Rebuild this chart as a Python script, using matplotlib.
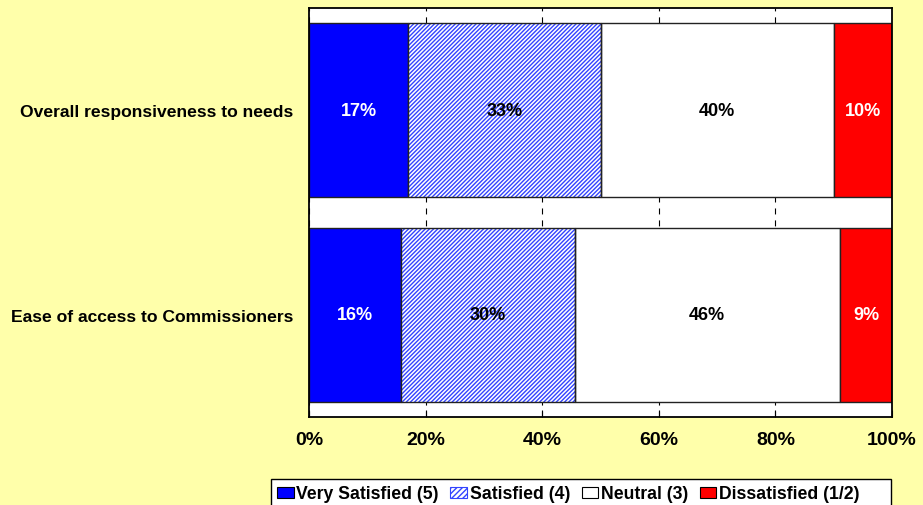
import matplotlib
matplotlib.use("Agg")
import matplotlib.pyplot as plt
import matplotlib.patches as mpatches
import numpy as np

# Survey results (percent of respondents)
questions = ["Overall responsiveness to needs", "Ease of access to Commissioners"]
series_names = ["Very Satisfied (5)", "Satisfied (4)", "Neutral (3)", "Dissatisfied (1/2)"]
very_satisfied = [17, 16]
satisfied = [33, 30]
neutral = [40, 46]
dissatisfied = [10, 9]
x_ticks = [0, 20, 40, 60, 80, 100]
x_tick_labels = ["0%", "20%", "40%", "60%", "80%", "100%"]

plt.rcParams["font.family"] = ["Liberation Sans", "DejaVu Sans"]
plt.rcParams["font.weight"] = "bold"
plt.rcParams["lines.scale_dashes"] = False
plt.rcParams["hatch.linewidth"] = 1.0

BG = "#FFFFAA"
W, H = 923, 506
fig = plt.figure(figsize=(W / 100, H / 100), dpi=100, facecolor=BG)
ax = fig.add_axes([309 / W, 1 - 418 / H, 583 / W, 409 / H])
ax.set_facecolor("white")

values = np.array([very_satisfied, satisfied, neutral, dissatisfied], dtype=float)
totals = values.sum(axis=0)
shares = values / totals * 100.0  # each row stacks to 100%

ypos = np.array([1.0, 0.0])
height = 0.85
HATCH_BLUE = "#3344FF"
styles = [
    dict(face="#0000FF", hatch=None, text="white"),
    dict(face="white", hatch="////////", text="black"),
    dict(face="white", hatch=None, text="black"),
    dict(face="#FF0000", hatch=None, text="white"),
]

left = np.zeros(len(questions))
handles = []
for i, (name, st) in enumerate(zip(series_names, styles)):
    w = shares[i]
    if st["hatch"]:
        ax.barh(ypos, w, left=left, height=height, color="white",
                edgecolor=HATCH_BLUE, hatch=st["hatch"], linewidth=0, zorder=2)
        ax.barh(ypos, w, left=left, height=height, color="none",
                edgecolor="#222222", linewidth=1.0, zorder=3)
        handles.append(mpatches.Patch(facecolor="white", edgecolor=HATCH_BLUE,
                                      hatch="//////", linewidth=0.8, label=name))
    else:
        ax.barh(ypos, w, left=left, height=height, color=st["face"],
                edgecolor="#222222", linewidth=1.0, zorder=2)
        handles.append(mpatches.Patch(facecolor=st["face"], edgecolor="black",
                                      linewidth=0.8, label=name))
    for y, l, ww, v in zip(ypos, left, w, values[i]):
        ax.text(l + ww / 2, y, f"{v:.0f}%", ha="center", va="center",
                fontsize=13, fontweight="bold", color=st["text"], zorder=4)
    left = left + w

ax.set_xlim(0, 100)
ax.set_ylim(-0.5, 1.5)
ax.set_xticks(x_ticks)
ax.set_xticklabels(x_tick_labels, fontsize=14, fontweight="bold")
ax.set_yticks(ypos)
ax.set_yticklabels(questions, fontsize=12.6, fontweight="bold")
ax.tick_params(axis="x", direction="in", length=5, width=0.8, pad=10)
ax.tick_params(axis="y", length=0, pad=11)
ax.xaxis.grid(True, color="black", linewidth=0.8, linestyle=(0, (4.3, 4.3)), zorder=1)
ax.set_axisbelow(True)
for sp in ax.spines.values():
    sp.set_linewidth(1.3)
    sp.set_color("black")

# Legend box: white panel running off the bottom edge
fig.patches.append(mpatches.Rectangle(
    (271 / W, -0.05), 620 / W, (H - 480) / H + 0.05,
    transform=fig.transFigure, facecolor="white", edgecolor="black",
    linewidth=1.0, zorder=1))

fig.legend(handles=handles, loc="center left", ncol=4,
           bbox_to_anchor=(277 / W, 1 - 495 / H),
           frameon=False,
           prop={"weight": "bold", "size": 12.7},
           handlelength=0.95, handleheight=0.6, handletextpad=0.15,
           columnspacing=0.65, borderpad=0, borderaxespad=0)

fig.savefig("out.png", dpi=100, facecolor=BG)
